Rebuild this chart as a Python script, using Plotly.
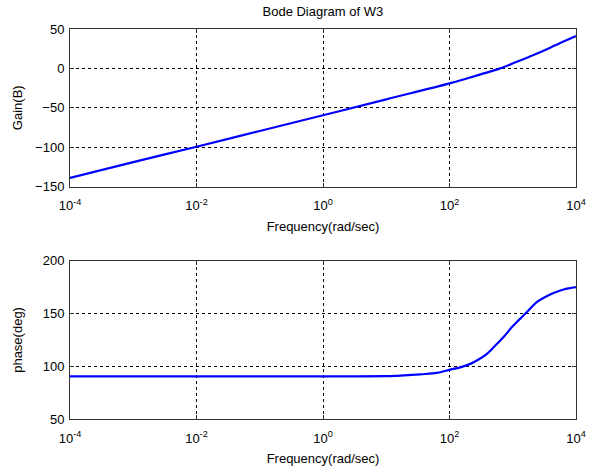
import plotly.graph_objects as go

# Values
gain_freq = [1e-4, 1e-3, 1e-2, 1e-1, 1e0, 1e1, 1e2, 188, 346, 634, 1164, 2134, 3917, 7194, 1e4]
gain_db = [-139, -119, -99.5, -79.5, -59.5, -39.3, -19.1, -12.8, -6.4, 0, 8.4, 17.0, 26.3, 36.1, 41.2]

phase_freq = [1e-4, 1e-3, 1e-2, 1e-1, 1e0, 1e1, 14.7, 34.4, 63.2, 99, 148, 213, 288, 391, 530,
              716, 971, 1315, 1782, 2415, 3266, 4426, 6370, 1e4]
phase_deg = [90.5, 90.5, 90.5, 90.5, 90.5, 90.6, 91.0, 92.4, 93.7, 96.6, 99.0, 102.3, 106.4, 111.8, 119.7,
             127.7, 137.2, 145.2, 153.1, 161.1, 165.8, 169.6, 172.9, 175.1]

x_tickvals = [1e-4, 1e-2, 1e0, 1e2, 1e4]
x_ticktext = ["10<sup>-4</sup>", "10<sup>-2</sup>", "10<sup>0</sup>", "10<sup>2</sup>", "10<sup>4</sup>"]
gain_ticks = [-150, -100, -50, 0, 50]
phase_ticks = [50, 100, 150, 200]

FONT = "Liberation Sans, Arial, sans-serif"
FS = 13

fig = go.Figure()
fig.add_trace(go.Scatter(x=gain_freq, y=gain_db, mode="lines", line_shape="spline",
                         line=dict(color="#0000FF", width=2.2), xaxis="x", yaxis="y",
                         showlegend=False))
fig.add_trace(go.Scatter(x=phase_freq, y=phase_deg, mode="lines", line_shape="spline",
                         line=dict(color="#0000FF", width=2.2), xaxis="x2", yaxis="y2",
                         showlegend=False))

H = 472.0
mt, mb = 29.3, 53.0
ph = H - mt - mb
top_lo = (H - mb - 186.7) / ph
bot_hi = (H - mb - 261.0) / ph

tfont = dict(size=FS, color="#000000", family=FONT)

common_x = dict(type="log", range=[-4, 4], tickvals=x_tickvals, ticktext=x_ticktext,
                showline=True, linecolor="#333333", linewidth=1, mirror="ticks",
                ticks="inside", ticklen=4, tickcolor="#333333", ticklabelstandoff=7,
                showgrid=True, gridcolor="#000000", gridwidth=1, griddash="3px,3px",
                zeroline=False, tickfont=tfont, automargin=False,
                title=dict(text="Frequency(rad/sec)", font=tfont, standoff=9))
common_y = dict(showline=True, linecolor="#333333", linewidth=1, mirror="ticks",
                ticks="inside", ticklen=4, tickcolor="#333333", ticklabelstandoff=2,
                showgrid=True, gridcolor="#000000", gridwidth=1, griddash="3px,3px",
                zeroline=False, tickfont=tfont, automargin=False)

fig.update_layout(
    width=597, height=472,
    margin=dict(l=70, r=21.3, t=mt, b=mb, autoexpand=False),
    paper_bgcolor="white", plot_bgcolor="white",
    font=dict(family=FONT, size=FS, color="#000000"),
    title=dict(text="Bode Diagram of W3", x=(70 + 575.7) / 2 / 597, xanchor="center",
               y=1 - 11 / H, yanchor="middle", font=tfont),
    xaxis=dict(common_x, domain=[0, 1], anchor="y"),
    yaxis=dict(common_y, domain=[top_lo, 1], anchor="x", range=[-150, 50], tickvals=gain_ticks,
               title=dict(text="Gain(B)", font=tfont, standoff=9)),
    xaxis2=dict(common_x, domain=[0, 1], anchor="y2"),
    yaxis2=dict(common_y, domain=[0, bot_hi], anchor="x2", range=[50, 200], tickvals=phase_ticks,
                title=dict(text="phase(deg)", font=tfont, standoff=17)),
)

fig.write_html("out.html", config={"displayModeBar": False},
               post_script="document.body.style.margin='0';document.body.style.overflow='hidden';")
